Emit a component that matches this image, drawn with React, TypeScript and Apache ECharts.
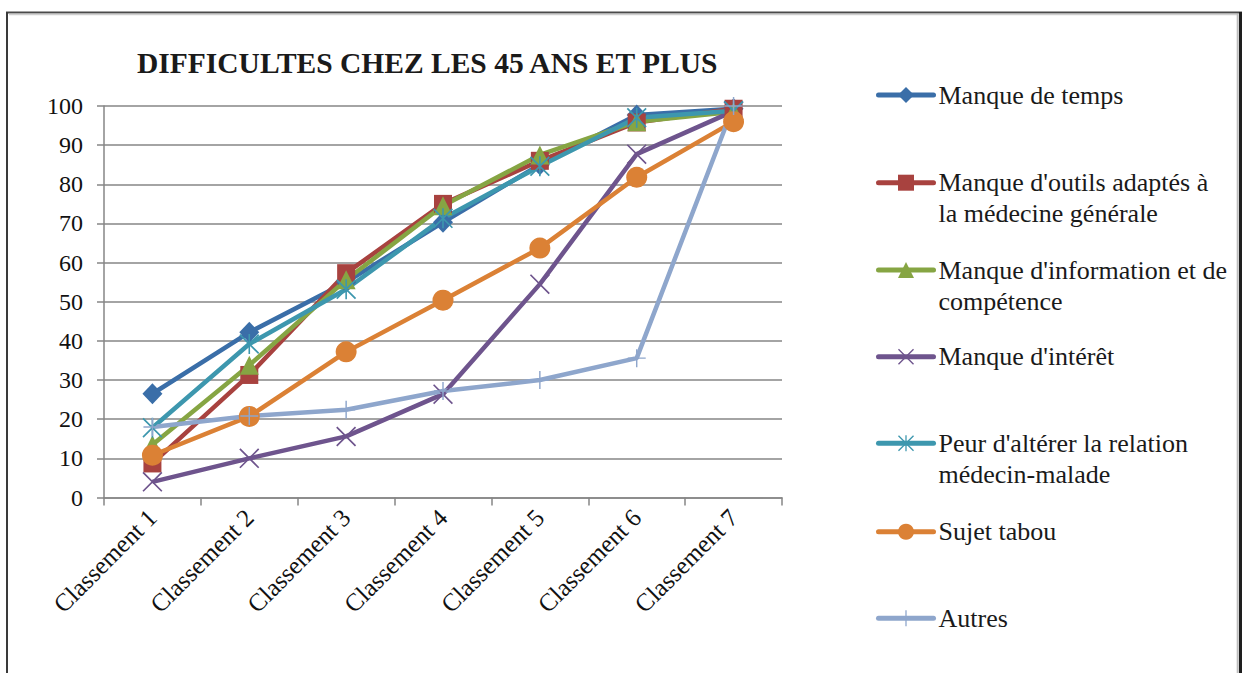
import React, { useEffect, useRef } from "react";
import * as echarts from "echarts";

const categories = ["Classement 1", "Classement 2", "Classement 3", "Classement 4", "Classement 5", "Classement 6", "Classement 7"];
const yTicks = [0, 10, 20, 30, 40, 50, 60, 70, 80, 90, 100];

const manqueTemps = [26.5, 42.2, 55, 70.3, 85, 97.7, 99.3];
const manqueOutils = [8.7, 31.3, 57.3, 75, 86, 95.8, 99.3];
const manqueInformation = [13.5, 33.8, 55.6, 74.5, 87.5, 96, 98.5];
const manqueInteret = [4, 10, 15.6, 26.4, 54.5, 87.7, 98.7];
const peurRelation = [17.8, 39.2, 53.2, 71.3, 84.6, 97, 98.8];
const sujetTabou = [10.8, 20.7, 37.2, 50.4, 63.7, 81.8, 96];
const autres = [18, 20.8, 22.4, 27.2, 30, 35.6, 100];

const seriesNames = [
  "Manque de temps",
  "Manque d'outils adaptés à la médecine générale",
  "Manque d'information et de compétence",
  "Manque d'intérêt",
  "Peur d'altérer la relation médecin-malade",
  "Sujet tabou",
  "Autres",
];
const legendLabels = [
  "Manque de temps",
  "Manque d'outils adaptés à\nla médecine générale",
  "Manque d'information et de\ncompétence",
  "Manque d'intérêt",
  "Peur d'altérer la relation\nmédecin-malade",
  "Sujet tabou",
  "Autres",
];
const seriesData = [manqueTemps, manqueOutils, manqueInformation, manqueInteret, peurRelation, sujetTabou, autres];
const colors = ["#3A6EA8", "#A8423F", "#86A543", "#6E548D", "#3D97AE", "#DB8135", "#8EA6CC"];

const X_PATH = "path://M0,6 L6,0 L100,94 L94,100 Z M94,0 L100,6 L6,100 L0,94 Z";
const STAR_PATH = "path://M0,6 L6,0 L100,94 L94,100 Z M94,0 L100,6 L6,100 L0,94 Z M46,0 L54,0 L54,100 L46,100 Z";
const PLUS_PATH = "path://M46,0 L54,0 L54,100 L46,100 Z M0,46 L100,46 L100,54 L0,54 Z";
const symbols = ["diamond", "rect", "triangle", X_PATH, STAR_PATH, "circle", PLUS_PATH];
const symbolSizes: any[] = [[20, 21], 18, 19, 20, 20, 21, 18];
const legendIconCenters = [95, 182.7, 270, 356.7, 443.3, 531.7, 618.3];

const FONT = "Liberation Serif, Times New Roman, serif";

export default function App() {
  const ref = useRef<HTMLDivElement>(null);
  useEffect(() => {
    if (!ref.current) return;
    const chart = echarts.init(ref.current, null, { renderer: "svg" });
    const LH = 31;
    const IH = 20;
    const legends = seriesNames.map((name, i) => {
      const two = legendLabels[i].includes("\n");
      const label = two ? "\n" + legendLabels[i] : legendLabels[i];
      const top = legendIconCenters[i] - (two ? LH * 1.5 : LH / 2);
      return {
        data: [name],
        orient: "vertical",
        left: 876,
        top,
        padding: 0,
        itemWidth: 55,
        itemHeight: IH,
        selectedMode: false,
        formatter: () => label,
        lineStyle: { width: 5, cap: "round" },
        textStyle: {
          fontFamily: FONT,
          fontSize: 26,
          color: "#1a1a1a",
          lineHeight: LH,
        },
      };
    });
    chart.setOption({
      animation: false,
      backgroundColor: "#ffffff",
      textStyle: { fontFamily: FONT },
      title: {
        text: "DIFFICULTES CHEZ LES 45 ANS ET PLUS",
        left: 137,
        top: 48,
        padding: 0,
        textStyle: { fontFamily: FONT, fontSize: 29.5, fontWeight: "bold", color: "#1a1a1a" },
      },
      legend: legends,
      grid: { left: 104, right: 468, top: 106, bottom: 175.5, containLabel: false },
      xAxis: {
        type: "category",
        data: categories,
        boundaryGap: true,
        axisLine: { lineStyle: { color: "#868686", width: 1.5 } },
        axisTick: { show: true, length: 8, lineStyle: { color: "#868686", width: 1.5 } },
        axisLabel: { rotate: 45, margin: 16, fontFamily: FONT, fontSize: 25, color: "#111" },
        splitLine: { show: false },
      },
      yAxis: {
        type: "value",
        min: 0,
        max: 100,
        interval: 10,
        axisLine: { show: true, lineStyle: { color: "#868686", width: 1.5 } },
        axisTick: { show: true, length: 7, lineStyle: { color: "#868686", width: 1.5 } },
        axisLabel: {
          margin: 21,
          fontFamily: FONT,
          fontSize: 24,
          color: "#111",
          formatter: (v: number) => (yTicks.includes(v) ? String(v) : ""),
        },
        splitLine: { show: true, lineStyle: { color: "#868686", width: 1.5 } },
      },
      series: seriesNames.map((name, i) => ({
        name,
        type: "line",
        data: seriesData[i],
        symbol: symbols[i],
        symbolSize: symbolSizes[i],
        showSymbol: true,
        lineStyle: { color: colors[i], width: 4.5 },
        itemStyle: { color: colors[i] },
        emphasis: { disabled: true },
      })),
      graphic: [
        { type: "line", shape: { x1: 6, y1: 12.5, x2: 1242, y2: 12.5 }, style: { stroke: "#4a4a4a", lineWidth: 2 } },
        { type: "line", shape: { x1: 9, y1: 14.5, x2: 1237, y2: 14.5 }, style: { stroke: "#cfcfcf", lineWidth: 1.5 } },
        { type: "line", shape: { x1: 7, y1: 12, x2: 7, y2: 673 }, style: { stroke: "#3a3a3a", lineWidth: 2 } },
        { type: "line", shape: { x1: 1237.7, y1: 14, x2: 1237.7, y2: 673 }, style: { stroke: "#bdbdbd", lineWidth: 2 } },
        { type: "line", shape: { x1: 1240.5, y1: 12, x2: 1240.5, y2: 673 }, style: { stroke: "#1e1e1e", lineWidth: 3 } },
      ],
    });
    return () => chart.dispose();
  }, []);
  return <div ref={ref} style={{ position: "absolute", left: 0, top: 0, width: 1250, height: 673 }} />;
}
